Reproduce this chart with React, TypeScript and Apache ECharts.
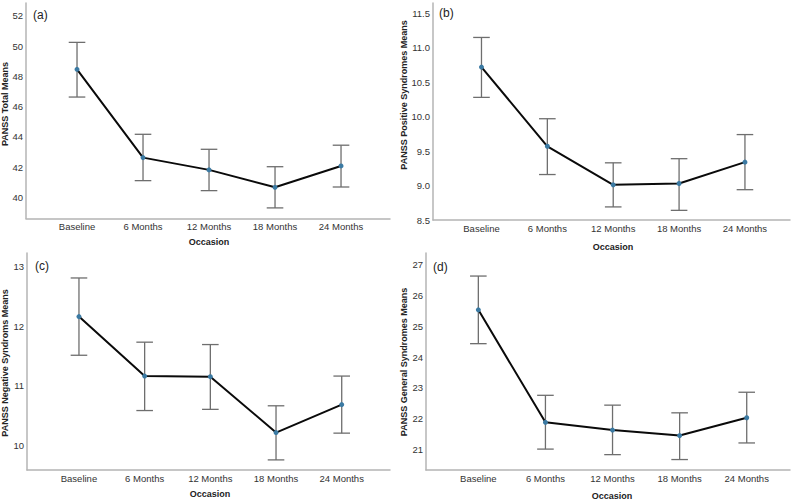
import React, { useEffect, useRef } from "react";
import * as echarts from "echarts";

const categories = ["Baseline", "6 Months", "12 Months", "18 Months", "24 Months"];

const totalMeans = [48.46, 42.63, 41.82, 40.67, 42.08];
const totalLower = [46.63, 41.11, 40.45, 39.31, 40.69];
const totalUpper = [50.24, 44.17, 43.18, 42.03, 43.45];
const totalTicks = [40, 42, 44, 46, 48, 50, 52];

const positiveMeans = [10.72, 9.57, 9.01, 9.03, 9.34];
const positiveLower = [10.28, 9.16, 8.69, 8.64, 8.94];
const positiveUpper = [11.15, 9.97, 9.33, 9.39, 9.74];
const positiveTicks = [8.5, 9.0, 9.5, 10.0, 10.5, 11.0, 11.5];

const negativeMeans = [12.16, 11.16, 11.15, 10.21, 10.68];
const negativeLower = [11.51, 10.58, 10.6, 9.75, 10.2];
const negativeUpper = [12.81, 11.73, 11.69, 10.66, 11.16];
const negativeTicks = [10, 11, 12, 13];

const generalMeans = [25.54, 21.88, 21.63, 21.45, 22.03];
const generalLower = [24.44, 21.01, 20.83, 20.67, 21.21];
const generalUpper = [26.64, 22.76, 22.44, 22.19, 22.86];
const generalTicks = [21, 22, 23, 24, 25, 26, 27];

const panelLetters = ["(a)", "(b)", "(c)", "(d)"];
const yTitles = [
  "PANSS Total Means",
  "PANSS Positive Syndromes Means",
  "PANSS Negative Syndroms Means",
  "PANSS General Syndromes Means",
];
const xTitle = "Occasion";

const FONT = "'Liberation Sans', Arial, sans-serif";

export default function App() {
  const ref = useRef<HTMLDivElement>(null);

  useEffect(() => {
    if (!ref.current) return;
    const chart = echarts.init(ref.current, null, { renderer: "svg" });

    const panels = [
      {
        means: totalMeans, lower: totalLower, upper: totalUpper, ticks: totalTicks, dec: 0,
        grid: { left: 26, top: 3, width: 364, height: 215.5 },
        ymin: 38.61, ymax: 52.84, xmin: -0.773, xmax: 4.742,
        letter: { x: 33, y: 15 }, ytitle: { x: 5, y: 104 }, xtitle: { x: 209, y: 242 },
      },
      {
        means: positiveMeans, lower: positiveLower, upper: positiveUpper, ticks: positiveTicks, dec: 1,
        grid: { left: 433, top: 3, width: 357, height: 217 },
        ymin: 8.5, ymax: 11.65, xmin: -0.736, xmax: 4.684,
        letter: { x: 439, y: 13 }, ytitle: { x: 404, y: 95 }, xtitle: { x: 613, y: 246.5 },
      },
      {
        means: negativeMeans, lower: negativeLower, upper: negativeUpper, ticks: negativeTicks, dec: 0,
        grid: { left: 27, top: 253, width: 363, height: 217 },
        ymin: 9.58, ymax: 13.23, xmin: -0.791, xmax: 4.735,
        letter: { x: 35, y: 266 }, ytitle: { x: 5, y: 363 }, xtitle: { x: 210, y: 494 },
      },
      {
        means: generalMeans, lower: generalLower, upper: generalUpper, ticks: generalTicks, dec: 0,
        grid: { left: 426, top: 253, width: 364, height: 217 },
        ymin: 20.33, ymax: 27.39, xmin: -0.78, xmax: 4.645,
        letter: { x: 433, y: 266.5 }, ytitle: { x: 404, y: 362 }, xtitle: { x: 612, y: 496 },
      },
    ];

    const axisLine = { show: true, onZero: false, lineStyle: { color: "#b4b4b4", width: 1.5 } };

    const grids = panels.map((p) => ({ ...p.grid, containLabel: false }));
    const xAxes = panels.map((p, i) => ({
      type: "value",
      gridIndex: i,
      min: p.xmin,
      max: p.xmax,
      axisLine,
      axisTick: { show: false },
      splitLine: { show: false },
      axisLabel: {
        customValues: [0, 1, 2, 3, 4],
        formatter: (v: number) => categories[Math.round(v)] ?? "",
        color: "#333",
        fontSize: 9.5,
        fontFamily: FONT,
        margin: 3,
      },
    }));
    const yAxes = panels.map((p, i) => ({
      type: "value",
      gridIndex: i,
      min: p.ymin,
      max: p.ymax,
      axisLine,
      axisTick: { show: false },
      splitLine: { show: false },
      axisLabel: {
        customValues: p.ticks,
        formatter: (v: number) => v.toFixed(p.dec),
        color: "#333",
        fontSize: 9.5,
        fontFamily: FONT,
        margin: 3,
      },
    }));

    const series: any[] = [];
    panels.forEach((p, i) => {
      series.push({
        type: "custom",
        xAxisIndex: i,
        yAxisIndex: i,
        z: 1,
        data: categories.map((_, k) => [k, p.lower[k], p.upper[k]]),
        renderItem: (params: any, api: any) => {
          const x = api.value(0);
          const lo = api.coord([x, api.value(1)]);
          const hi = api.coord([x, api.value(2)]);
          const half = 8.3;
          const style = { stroke: "#6e6e6e", lineWidth: 1.3 };
          return {
            type: "group",
            children: [
              { type: "line", shape: { x1: lo[0], y1: lo[1], x2: hi[0], y2: hi[1] }, style },
              { type: "line", shape: { x1: hi[0] - half, y1: hi[1], x2: hi[0] + half, y2: hi[1] }, style },
              { type: "line", shape: { x1: lo[0] - half, y1: lo[1], x2: lo[0] + half, y2: lo[1] }, style },
            ],
          };
        },
      });
      series.push({
        type: "line",
        xAxisIndex: i,
        yAxisIndex: i,
        z: 3,
        data: categories.map((_, k) => [k, p.means[k]]),
        symbol: "circle",
        symbolSize: 5,
        itemStyle: { color: "#3b7aa3" },
        lineStyle: { color: "#0a0a0a", width: 2 },
      });
    });

    const graphic: any[] = [];
    panels.forEach((p, i) => {
      graphic.push({
        type: "text",
        x: p.letter.x,
        y: p.letter.y,
        style: { text: panelLetters[i], fontSize: 12, fontFamily: FONT, fill: "#222", textVerticalAlign: "middle", textAlign: "left" },
      });
      graphic.push({
        type: "text",
        x: p.ytitle.x,
        y: p.ytitle.y,
        rotation: Math.PI / 2,
        style: { text: yTitles[i], fontSize: 9, fontWeight: "bold", fontFamily: FONT, fill: "#222", textAlign: "center", textVerticalAlign: "middle" },
      });
      graphic.push({
        type: "text",
        x: p.xtitle.x,
        y: p.xtitle.y,
        style: { text: xTitle, fontSize: 9, fontWeight: "bold", fontFamily: FONT, fill: "#222", textAlign: "center", textVerticalAlign: "middle" },
      });
    });

    chart.setOption({
      animation: false,
      backgroundColor: "#ffffff",
      grid: grids,
      xAxis: xAxes,
      yAxis: yAxes,
      series,
      graphic,
    });

    return () => chart.dispose();
  }, []);

  return (
    <div
      ref={ref}
      style={{ position: "fixed", left: 0, top: 0, width: 800, height: 500, background: "#fff" }}
    />
  );
}
